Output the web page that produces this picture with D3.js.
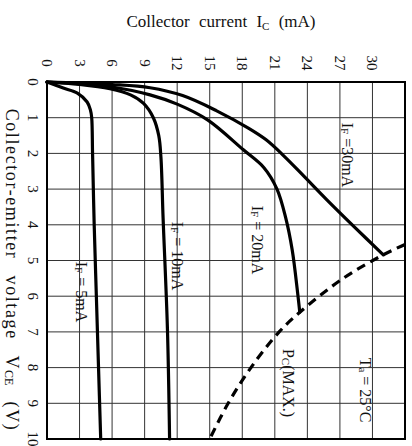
<!DOCTYPE html>
<html>
<head>
<meta charset="utf-8">
<script src="https://cdn.jsdelivr.net/npm/d3@7"></script>
<style>
  html, body { margin: 0; padding: 0; background: #fff; }
  svg { display: block; }
  text { font-family: "Liberation Serif", "DejaVu Serif", serif; fill: #111; }
</style>
</head>
<body>
<div id="chart"></div>
<script>
// Collector current vs collector-emitter voltage, drawn rotated a quarter turn:
// I_C runs left to right along the top, V_CE runs downward.

const icTicks = [0, 3, 6, 9, 12, 15, 18, 21, 24, 27, 30];
const icGrid = [0, 3, 6, 9, 12, 15, 18, 21, 24, 27, 30, 33];
const vceTicks = [0, 1, 2, 3, 4, 5, 6, 7, 8, 9, 10];

// Each curve: [V_CE (V), I_C (mA)] pairs
const curveIF5 = [[0, 0], [0.17, 1.5], [0.31, 2.8], [0.56, 3.7], [0.78, 4.0], [1.0, 4.12], [2, 4.2], [4, 4.35], [6, 4.55], [8, 4.75], [10, 4.95]];
const curveIF10 = [[0, 0], [0.07, 3], [0.19, 5.8], [0.36, 7.7], [0.6, 8.9], [1.0, 9.8], [1.5, 10.3], [2.1, 10.5], [3.8, 10.7], [6.9, 11.1], [10, 11.3]];
const curveIF20 = [[0, 0], [0.05, 3], [0.14, 6], [0.36, 9.5], [0.62, 12], [1.06, 14.8], [1.9, 18.1], [2.4, 20], [3.0, 21.2], [3.8, 22.0], [4.7, 22.6], [5.9, 23.1], [6.45, 23.3]];
const curveIF30 = [[0, 0], [0.03, 3], [0.07, 6], [0.16, 9.5], [0.38, 12.5], [0.8, 15.6], [1.3, 18.6], [1.62, 20.2], [2.06, 21.8], [2.58, 23.5], [3.3, 25.8], [4.05, 28.3], [4.84, 31.0]];
// Collector power dissipation limit P_C(MAX.)
const curvePcMax = [[4.55, 33], [4.84, 31.0], [5.5, 27.3], [6.45, 23.3], [7, 21.4], [8, 18.8], [9, 16.7], [10, 15]];

const W = 412, H = 446;
const plot = { left: 47, top: 82, right: 405, bottom: 439 };

const svg = d3.select("#chart").append("svg")
  .attr("width", W).attr("height", H);

const x = d3.scaleLinear().domain([0, 33]).range([plot.left, plot.right]);
const y = d3.scaleLinear().domain([0, 10]).range([plot.top, plot.bottom]);

// grid
const grid = svg.append("g").attr("stroke", "#333").attr("stroke-width", 1);
grid.selectAll("line.v").data(icGrid).join("line")
  .attr("x1", d => x(d)).attr("x2", d => x(d))
  .attr("y1", plot.top).attr("y2", plot.bottom);
grid.selectAll("line.h").data(vceTicks).join("line")
  .attr("x1", plot.left).attr("x2", plot.right)
  .attr("y1", d => y(d)).attr("y2", d => y(d));

// frame
svg.append("rect")
  .attr("x", plot.left).attr("y", plot.top)
  .attr("width", plot.right - plot.left).attr("height", plot.bottom - plot.top)
  .attr("fill", "none").attr("stroke", "#000").attr("stroke-width", 2);

// rotated tick labels
svg.append("g").selectAll("text").data(icTicks).join("text")
  .attr("transform", d => `translate(${x(d)},${63}) rotate(90)`)
  .attr("text-anchor", "middle").attr("dominant-baseline", "central")
  .attr("font-size", 15)
  .text(d => d);

svg.append("g").selectAll("text").data(vceTicks).join("text")
  .attr("transform", d => `translate(${33},${y(d)}) rotate(90)`)
  .attr("text-anchor", "middle").attr("dominant-baseline", "central")
  .attr("font-size", 15)
  .text(d => d);

// axis titles
const topTitle = svg.append("text")
  .attr("x", 221).attr("y", 27)
  .attr("text-anchor", "middle").attr("font-size", 17)
  .attr("word-spacing", 5);
topTitle.append("tspan").text("Collector current I");
topTitle.append("tspan").attr("font-size", 11).attr("dy", 3).text("C");
topTitle.append("tspan").attr("dy", -3).text(" (mA)");

const leftTitle = svg.append("text")
  .attr("transform", `translate(${12},${270}) rotate(90)`)
  .attr("text-anchor", "middle").attr("dominant-baseline", "central")
  .attr("font-size", 18)
  .attr("letter-spacing", 1.6).attr("word-spacing", 10);
leftTitle.append("tspan").text("Collector-emitter voltage V");
leftTitle.append("tspan").attr("font-size", 12).attr("dy", 3).attr("letter-spacing", 0).text("CE");
leftTitle.append("tspan").attr("dy", -3).text(" (V)");

// characteristic curves
const line = d3.line()
  .x(d => x(d[1])).y(d => y(d[0]))
  .curve(d3.curveCatmullRom.alpha(0.5));

const curves = svg.append("g").attr("fill", "none").attr("stroke", "#000")
  .attr("stroke-linejoin", "round").attr("stroke-linecap", "round");
[curveIF5, curveIF10, curveIF20, curveIF30].forEach(c => {
  curves.append("path").attr("d", line(c)).attr("stroke-width", 3.2);
});
curves.append("path").attr("d", line(curvePcMax))
  .attr("stroke-width", 3.2).attr("stroke-linecap", "butt")
  .attr("stroke-dasharray", "9,6");

// in-plot annotations (rotated)
function label(cx, cy, parts) {
  const t = svg.append("text")
    .attr("transform", `translate(${cx},${cy}) rotate(90)`)
    .attr("text-anchor", "middle").attr("dominant-baseline", "central")
    .attr("font-size", 16);
  parts.forEach(p => {
    const s = t.append("tspan").text(p.t);
    if (p.sub) s.attr("font-size", 11).attr("dy", 3);
    if (p.up) s.attr("dy", -3);
  });
}
label(348, 155, [{ t: "I" }, { t: "F", sub: true }, { t: " =30mA", up: true }]);
label(258, 240, [{ t: "I" }, { t: "F", sub: true }, { t: " = 20mA", up: true }]);
label(178, 256, [{ t: "I" }, { t: "F", sub: true }, { t: " = 10mA", up: true }]);
label(82, 292, [{ t: "I" }, { t: "F", sub: true }, { t: " = 5mA", up: true }]);
label(289, 383, [{ t: "P" }, { t: "C", sub: true }, { t: "(MAX.)", up: true }]);
label(366, 390, [{ t: "T" }, { t: "a", sub: true }, { t: " = 25°C", up: true }]);
</script>
</body>
</html>
